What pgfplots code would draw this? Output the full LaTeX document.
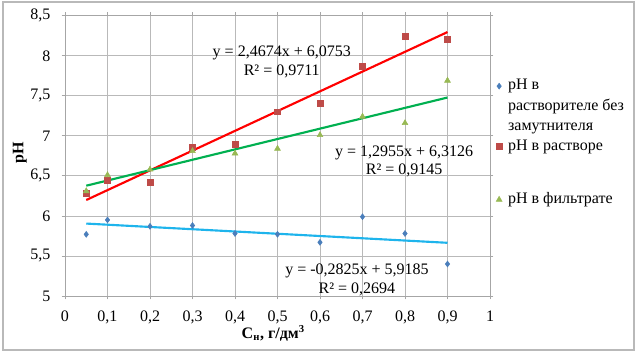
\documentclass[border=0pt]{standalone}
\usepackage{fontspec}
\setmainfont{Liberation Serif}
\usepackage{pgfplots}
\pgfplotsset{compat=1.18}
\definecolor{cblue}{HTML}{4A7EBB}
\definecolor{cred}{HTML}{BE4B48}
\definecolor{cgreen}{HTML}{98B954}
\definecolor{tred}{HTML}{FF0000}
\definecolor{tgreen}{HTML}{00B050}
\definecolor{tblue}{HTML}{1EB4EC}
\begin{document}
\begin{tikzpicture}
\path[use as bounding box] (0,0) rectangle (480pt,267pt);
\draw[gray!55, line width=1pt] (2.25pt,4.5pt) rectangle (475.5pt,265.5pt);
\begin{axis}[
  at={(48.75pt,45pt)}, anchor=south west,
  scale only axis, width=318.75pt, height=210.2pt,
  xmin=0, xmax=1, ymin=5, ymax=8.5,
  xtick={0,0.1,...,1.01}, ytick={5,5.5,...,8.51},
  grid=major, grid style={gray!55, line width=0.6pt},
  axis line style={gray!70, line width=0.6pt},
  tick style={gray!70, line width=0.6pt},
  tick align=outside, major tick length=2.5pt,
  x tick label style={yshift=-5pt},
  y tick label style={xshift=-5pt},
  /pgf/number format/.cd, use comma, fixed, assume math mode=true,
  /pgfplots/.cd,
  tick label style={font=\fontsize{12}{14}\selectfont},
  xlabel={\textbf{C\textsubscript{н}, г/дм\textsuperscript{3}}},
  ylabel={\textbf{pH}},
  every axis x label/.style={at={(rel axis cs:0.49,-0.132)}, anchor=center, font=\fontsize{12}{14}\selectfont},
  every axis y label/.style={at={(rel axis cs:-0.106,0.51)}, rotate=90, anchor=center, font=\fontsize{12}{14}\selectfont},
  legend style={at={(rel axis cs:1.014,0.783)}, anchor=north west, draw=none, fill=none,
    font=\fontsize{12}{14}\selectfont, row sep=2.8pt, column sep=4.5pt, inner sep=0pt,
    nodes={inner sep=0pt, text depth=},
    cells={anchor=base west, inner sep=0pt, text depth=}},
  legend image code/.code={\draw[#1] plot coordinates {(0pt,2.8pt)};},
  clip=false,
]
\addplot[only marks, mark=diamond*, mark size=2.2pt, color=cblue] coordinates {
(0.05,5.77) (0.1,5.95) (0.2,5.87) (0.3,5.88) (0.4,5.78) (0.5,5.77) (0.6,5.67) (0.7,5.99) (0.8,5.78) (0.9,5.40)};
\addlegendentry{\begin{tabular}[t]{@{}l@{}}pH в\\[1.2pt]растворителе без\\[1.2pt]замутнителя\end{tabular}}
\addplot[only marks, mark=square*, mark size=2.2pt, color=cred] coordinates {
(0.05,6.28) (0.1,6.44) (0.2,6.42) (0.3,6.86) (0.4,6.89) (0.5,7.30) (0.6,7.41) (0.7,7.87) (0.8,8.24) (0.9,8.21)};
\addlegendentry{pH в растворе}
\addplot[only marks, mark=triangle*, mark size=2.5pt, color=cgreen] coordinates {
(0.05,6.31) (0.1,6.51) (0.2,6.58) (0.3,6.81) (0.4,6.78) (0.5,6.84) (0.6,7.01) (0.7,7.24) (0.8,7.16) (0.9,7.69)};
\addlegendentry{\rule{0pt}{34.5pt}pH в фильтрате}
\addplot[forget plot, tblue, line width=1.6pt] coordinates {(0.05,5.9044) (0.9,5.6643)};
\addplot[forget plot, tred, line width=1.6pt] coordinates {(0.05,6.1987) (0.9,8.2960)};
\addplot[forget plot, tgreen, line width=1.6pt] coordinates {(0.05,6.3774) (0.9,7.4786)};
\node[align=center, font=\fontsize{12}{14}\selectfont] at (axis cs:0.51,7.92) {y = 2,4674x + 6,0753\\R² = 0,9711};
\node[align=center, font=\fontsize{12}{14}\selectfont] at (axis cs:0.798,6.68) {y = 1,2955x + 6,3126\\R² = 0,9145};
\node[align=center, font=\fontsize{12}{14}\selectfont] at (axis cs:0.687,5.20) {y = -0,2825x + 5,9185\\R² = 0,2694};
\end{axis}
\end{tikzpicture}
\end{document}
